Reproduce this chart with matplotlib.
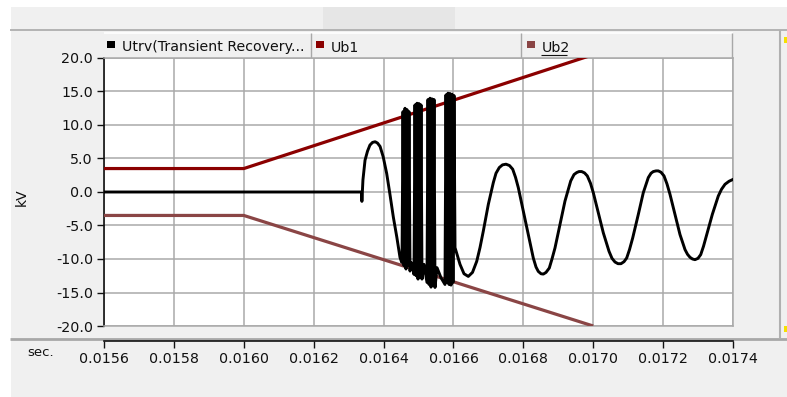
import matplotlib
matplotlib.use("Agg")
import matplotlib.pyplot as plt
from matplotlib.patches import Rectangle
from matplotlib.lines import Line2D

# ---- data ----------------------------------------------------------------
x_ticks = [0.0156, 0.0158, 0.0160, 0.0162, 0.0164, 0.0166, 0.0168, 0.0170, 0.0172, 0.0174]
y_ticks = [-20.0, -15.0, -10.0, -5.0, 0.0, 5.0, 10.0, 15.0, 20.0]

series_names = ["Utrv(Transient Recovery...", "Ub1", "Ub2"]

# breakdown voltage envelopes (kV)
ub_time = [0.0156, 0.0160, 0.0170]
ub1_kv = [3.5, 3.5, 20.5]
ub2_kv = [-3.5, -3.5, -20.0]

# transient recovery voltage (kV)
utrv_time = [
    0.0156000, 0.0163370, 0.0163380, 0.0163410, 0.0163470, 0.0163541, 0.0163610,
    0.0163684, 0.0163760, 0.0163827, 0.0163900, 0.0163990, 0.0164090, 0.0164180,
    0.0164280, 0.0164380, 0.0164470, 0.0164520,
    # restrike burst 1
    0.0164528, 0.0164557, 0.0164585, 0.0164614, 0.0164642, 0.0164671, 0.0164700,
    0.0164728, 0.0164757, 0.0164785, 0.0164814, 0.0164871,
    # restrike burst 2
    0.0164900, 0.0164929, 0.0164957, 0.0164986, 0.0165014, 0.0165043, 0.0165072,
    0.0165100, 0.0165157, 0.0165243,
    # restrike burst 3
    0.0165272, 0.0165301, 0.0165329, 0.0165358, 0.0165386, 0.0165415, 0.0165444,
    0.0165472, 0.0165530, 0.0165644, 0.0165758,
    # restrike burst 4
    0.0165787, 0.0165816, 0.0165844, 0.0165873, 0.0165902, 0.0165930, 0.0165959,
    0.0165987, 0.0166016, 0.0166045,
    # recovery oscillation
    0.0166188, 0.0166302, 0.0166425, 0.0166545, 0.0166666, 0.0166760, 0.0166854,
    0.0166998, 0.0167141, 0.0167218, 0.0167312, 0.0167404, 0.0167504, 0.0167604,
    0.0167696, 0.0167776, 0.0167856, 0.0167999, 0.0168142, 0.0168285, 0.0168363,
    0.0168428, 0.0168506, 0.0168572, 0.0168649, 0.0168743, 0.0168820, 0.0168906,
    0.0169049, 0.0169192, 0.0169356, 0.0169450, 0.0169527, 0.0169593, 0.0169670,
    0.0169751, 0.0169831, 0.0169922, 0.0170002, 0.0170145, 0.0170289, 0.0170452,
    0.0170537, 0.0170623, 0.0170709, 0.0170795, 0.0170881, 0.0170958, 0.0171038,
    0.0171130, 0.0171290, 0.0171433, 0.0171576, 0.0171654, 0.0171719, 0.0171797,
    0.0171862, 0.0171940, 0.0172026, 0.0172111, 0.0172197, 0.0172340, 0.0172483,
    0.0172627, 0.0172698, 0.0172770, 0.0172841, 0.0172913, 0.0172998, 0.0173076,
    0.0173156, 0.0173248, 0.0173408, 0.0173579, 0.0173671, 0.0173771, 0.0173886,
    0.0174009,
]
utrv_kv = [
    0.0, 0.0, -1.4, 1.8, 4.75, 6.1, 7.0,
    7.4, 7.5, 7.3, 6.8, 5.25, 2.75, -0.25,
    -3.75, -6.75, -9.75, -10.5,
    -10.5, 12.0, -11.0, 12.5, -11.5, 12.3, -11.0,
    12.0, -11.8, -10.5, -10.8, -12.3,
    13.0, -12.5, 13.25, -13.0, 13.2, -12.8, 13.0,
    -13.0, -10.8, -13.5,
    13.8, -13.8, 14.0, -14.2, 13.9, -14.0, 13.8,
    -14.25, -11.3, -12.8, -13.8,
    14.5, -13.5, 14.75, -13.8, 14.7, -13.9, 14.6,
    -13.5, 14.4, -8.3,
    -10.8, -12.2, -12.6, -12.0, -10.35, -8.3, -5.85,
    -1.85, 1.4, 2.8, 3.65, 4.05, 4.15, 3.95,
    3.4, 2.2, 0.65, -2.85, -6.35, -9.85, -11.2,
    -11.85, -12.2, -12.25, -12.0, -11.35, -10.0, -8.35,
    -4.85, -1.35, 1.65, 2.6, 2.9, 3.05, 3.05,
    2.85, 2.4, 1.3, -0.1, -3.1, -6.1, -8.85,
    -9.9, -10.45, -10.7, -10.7, -10.4, -9.85, -8.6,
    -6.85, -3.35, -0.1, 2.15, 2.8, 3.05, 3.15,
    3.15, 2.95, 2.4, 1.2, -0.35, -3.35, -6.35,
    -8.6, -9.3, -9.75, -10.0, -10.1, -9.9, -9.35,
    -8.1, -6.35, -3.35, -0.6, 0.4, 1.15, 1.6,
    1.9,
]

# ---- styling --------------------------------------------------------------
W, H = 787, 397
PANEL = "#f0f0f0"
GRID = "#a9a9a9"
C_UTRV = "#000000"
C_UB1 = "#8b0000"
C_UB2 = "#8a4545"
FONT = "DejaVu Sans"

plt.rcParams["font.family"] = [FONT]

fig = plt.figure(figsize=(W / 100, H / 100), dpi=100, facecolor=PANEL)


def fx(x):
    return x / W


def fy(y):
    return 1 - y / H


def rect(x0, y0, x1, y1, color, z=-5):
    fig.add_artist(Rectangle((fx(x0), fy(y1)), (x1 - x0) / W, (y1 - y0) / H,
                             transform=fig.transFigure, facecolor=color,
                             edgecolor="none", zorder=z))


def hline(x0, x1, y, color, lw, z=-4):
    fig.add_artist(Line2D([fx(x0), fx(x1)], [fy(y), fy(y)], transform=fig.transFigure,
                          color=color, lw=lw, zorder=z, solid_capstyle="butt"))


def vline(x, y0, y1, color, lw, z=-4):
    fig.add_artist(Line2D([fx(x), fx(x)], [fy(y0), fy(y1)], transform=fig.transFigure,
                          color=color, lw=lw, zorder=z, solid_capstyle="butt"))


# window chrome around the chart
rect(0, 0, W, 7, "#ffffff")
rect(0, 0, 11, H, "#ffffff")
rect(323, 7, 455, 29, "#e6e6e6")
hline(10, W, 30, "#a8a8a8", 1.2)
hline(104, 733, 32.5, "#ffffff", 1.2)
hline(10, W, 338.5, "#a8a8a8", 2.0)
vline(779.5, 30, 338, "#b0b0b0", 1.5)
rect(784, 37, W, 43, "#f5e000", z=-3)
rect(784, 326, W, 332, "#f5e000", z=-3)

# legend cells
for sx in (311, 521, 732):
    vline(sx, 33, 58, "#a8a8a8", 1.0)
leg_x = [107, 316, 527]
leg_colors = [C_UTRV, C_UB1, C_UB2]
for lx, name, col in zip(leg_x, series_names, leg_colors):
    rect(lx, 41, lx + 8, 48, col, z=2)
    fig.text(fx(lx + 15), fy(51.5), name, fontsize=10.2, color="#111111",
             ha="left", va="baseline", family=FONT)
hline(541, 567, 54.5, "#111111", 0.8, z=2)

# ---- main plot ------------------------------------------------------------
ax = fig.add_axes([fx(104), fy(326), (733 - 104) / W, (326 - 58) / H])
ax.set_facecolor("#ffffff")
ax.set_xlim(x_ticks[0], x_ticks[-1])
ax.set_ylim(y_ticks[0], y_ticks[-1])

ax.plot(ub_time, ub1_kv, color=C_UB1, lw=2.3, zorder=3, solid_capstyle="butt")
ax.plot(ub_time, ub2_kv, color=C_UB2, lw=2.3, zorder=3, solid_capstyle="butt")
ax.plot(utrv_time, utrv_kv, color=C_UTRV, lw=2.1, zorder=4,
        solid_joinstyle="round", solid_capstyle="round")

ax.set_xticks(x_ticks)
ax.set_yticks(y_ticks)
ax.grid(True, color=GRID, lw=1.1, zorder=1)
ax.set_axisbelow(True)
ax.tick_params(axis="x", length=0, labelbottom=False)
ax.tick_params(axis="y", direction="out", length=5, width=1.0, color="#111111",
               pad=3, labelsize=10.3, labelcolor="#111111")
ax.set_yticklabels([f"{v:.1f}" for v in y_ticks])
for side in ("top", "right", "bottom"):
    ax.spines[side].set_color(GRID)
    ax.spines[side].set_linewidth(1.1)
ax.spines["left"].set_color("#111111")
ax.spines["left"].set_linewidth(1.2)

# separate time axis below the plot
axx = fig.add_axes([fx(104), fy(341), (733 - 104) / W, 0.0001])
axx.set_xlim(x_ticks[0], x_ticks[-1])
axx.set_xticks(x_ticks)
axx.set_xticklabels([f"{v:.4f}" for v in x_ticks])
axx.tick_params(axis="x", direction="out", length=5, width=1.0, color="#111111",
                pad=3, labelsize=10.3, labelcolor="#111111")
axx.set_yticks([])
axx.patch.set_visible(False)
for side in ("top", "right", "left"):
    axx.spines[side].set_visible(False)
axx.spines["bottom"].set_color("#111111")
axx.spines["bottom"].set_linewidth(1.2)

fig.text(fx(22), fy(197), "kV", rotation=90, fontsize=10, color="#111111",
         ha="center", va="center")
fig.text(fx(41), fy(352), "sec.", fontsize=9.5, color="#111111",
         ha="center", va="center")

fig.savefig("out.png", dpi=100, facecolor=PANEL)
